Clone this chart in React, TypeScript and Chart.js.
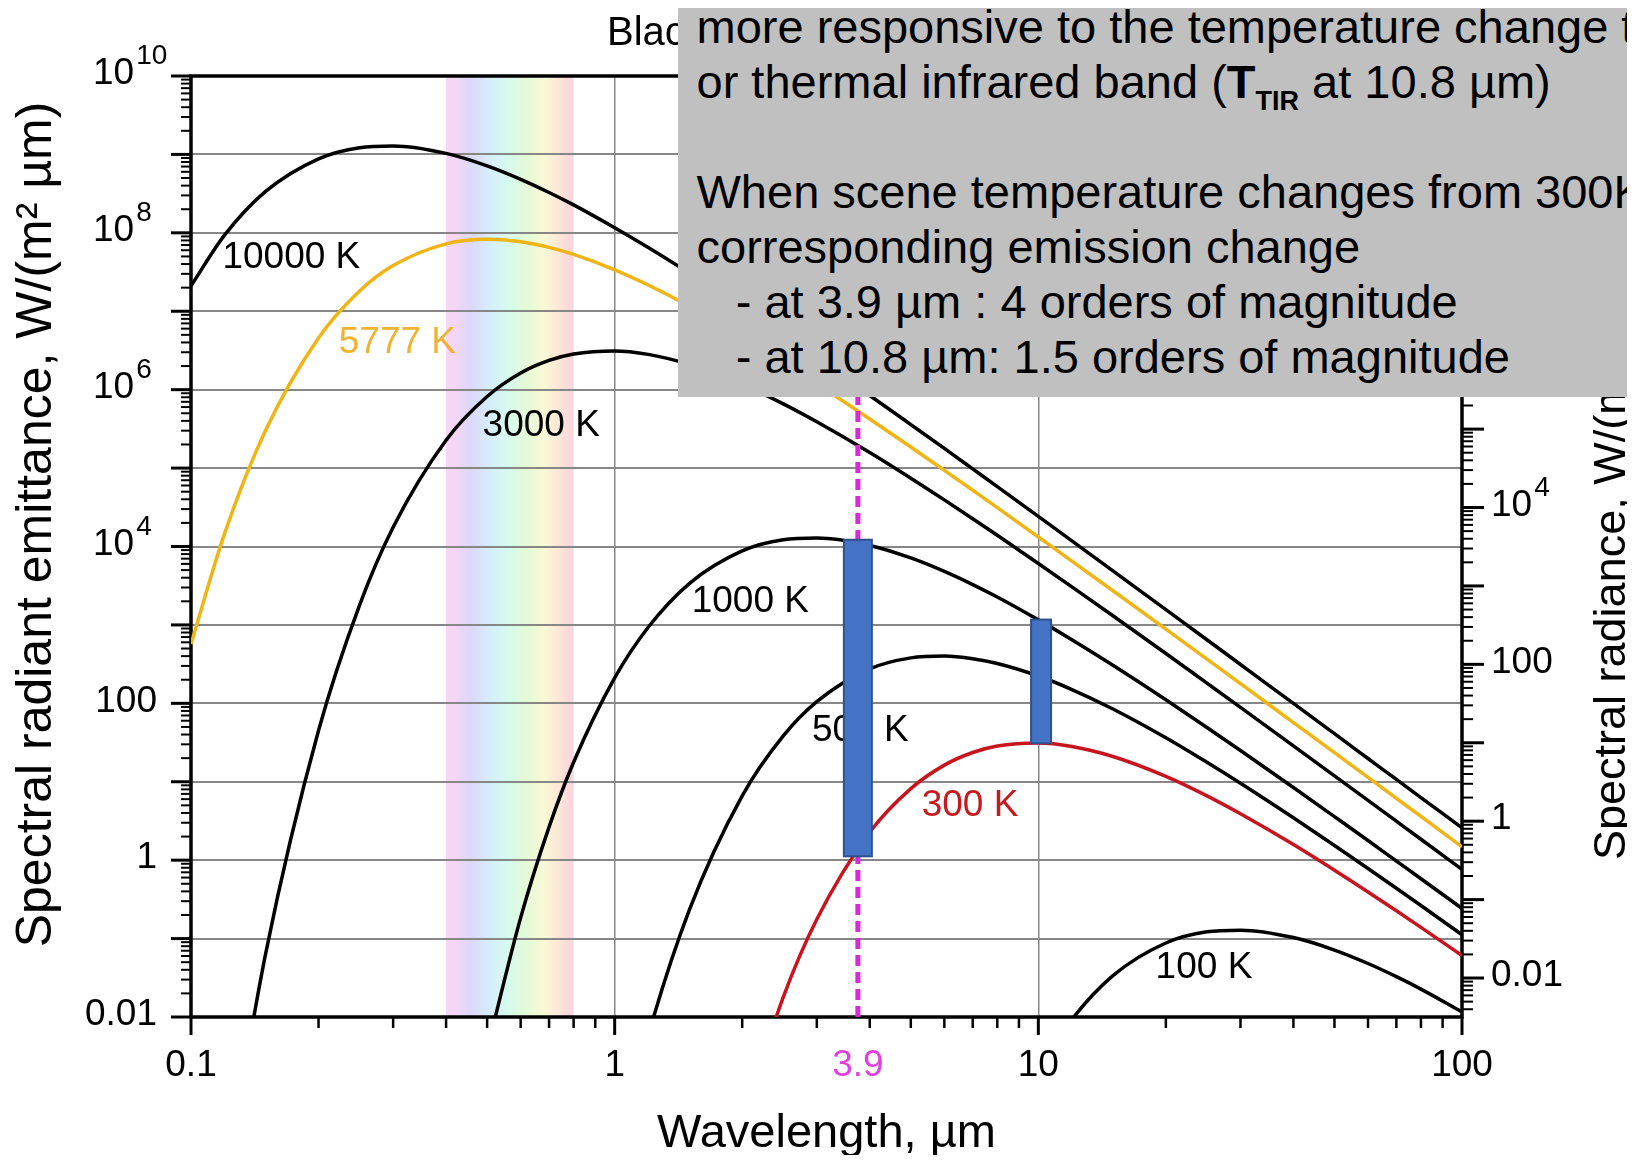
import React, { useEffect, useRef } from 'react';
import { Chart, registerables } from 'chart.js';

Chart.register(...registerables);

// ---------------- data ----------------
const wavelengths = [0.1, 0.12, 0.15, 0.2, 0.25, 0.3, 0.4, 0.5, 0.6, 0.7, 0.8, 1, 1.2, 1.5, 2, 2.5, 3, 4, 5, 6, 7, 8, 10, 12, 15, 20, 25, 30, 40, 50, 60, 70, 80, 100];

const emit10000K = [2.11e7, 9.33e7, 3.37e8, 8.79e8, 1.22e9, 1.28e9, 1.03e9, 7.14e8, 4.81e8, 3.27e8, 2.27e8, 1.16e8, 6.49e7, 3.06e7, 1.11e7, 4.92e6, 2.5e6, 8.44e5, 3.59e5, 1.78e5, 9.76e4, 5.8e4, 2.42e4, 1.18e4, 4.9e3, 1.57e3, 647, 313, 99.8, 41.0, 19.8, 10.7, 6.29, 2.58];
const emit5777K = [571, 1.46e4, 3.03e5, 4.57e6, 1.81e7, 3.82e7, 7.24e7, 8.28e7, 7.7e7, 6.53e7, 5.31e7, 3.38e7, 2.16e7, 1.16e7, 4.73e6, 2.24e6, 1.19e6, 4.23e5, 1.86e5, 9.35e4, 5.21e4, 3.13e4, 1.32e4, 6.52e3, 2.73e3, 882, 366, 178, 56.9, 23.5, 11.4, 6.15, 3.61, 1.48];
const emit3000K = [null, 6.6e-5, 0.064, 45, 1.79e3, 1.76e4, 2.27e5, 8.18e5, 1.63e6, 2.36e6, 2.85e6, 3.12e6, 2.82e6, 2.1e6, 1.17e6, 6.6e5, 3.9e5, 1.58e5, 7.44e4, 3.93e4, 2.26e4, 1.39e4, 6.08e3, 3.06e3, 1.31e3, 432, 181, 88.8, 28.7, 11.9, 5.78, 3.14, 1.85, 0.762];
const emit1000K = [null, null, null, null, null, null, null, 0.0038, 0.185, 2.64, 17.7, 211, 933, 3.37e3, 8.79e3, 1.22e4, 1.28e4, 1.03e4, 7.14e3, 4.81e3, 3.27e3, 2.27e3, 1.16e3, 649, 306, 111, 49.2, 25, 8.44, 3.59, 1.78, 0.976, 0.58, 0.242];
const emit500K = [null, null, null, null, null, null, null, null, null, null, null, 1.2e-4, 0.0058, 0.23, 6.6, 38.4, 105, 275, 380, 401, 371, 322, 223, 150, 84.8, 36.4, 17.7, 9.57, 3.47, 1.54, 0.782, 0.438, 0.264, 0.112];
const emit300K = [null, null, null, null, null, null, null, null, null, null, null, null, null, null, 4.5e-4, 0.0179, 0.176, 2.27, 8.18, 16.3, 23.6, 28.5, 31.2, 28.2, 21.0, 11.7, 6.6, 3.9, 1.58, 0.744, 0.393, 0.226, 0.139, 0.0608];
const emit100K = [null, null, null, null, null, null, null, null, null, null, null, null, null, null, null, null, null, null, null, null, null, null, 0.0021, 0.0093, 0.0337, 0.0879, 0.122, 0.128, 0.103, 0.0714, 0.0481, 0.0327, 0.0227, 0.0116];

const curveNames = ['10000 K', '5777 K', '3000 K', '1000 K', '500 K', '300 K', '100 K'];
const curveSeries = [emit10000K, emit5777K, emit3000K, emit1000K, emit500K, emit300K, emit100K];

// curve label anchor points (wavelength, emittance)
const curveLabelX = [0.1725, 0.307, 0.671, 2.09, 3.8, 6.9, 24.6];
const curveLabelY = [4.8e7, 4.0e6, 3.5e5, 2.0e3, 45, 5.0, 0.042];

// axes
const xDecades = [0.1, 1, 10, 100];
const xTickLabels = ['0.1', '1', '10', '100'];
const yDecades = [0.01, 0.1, 1, 10, 100, 1e3, 1e4, 1e5, 1e6, 1e7, 1e8, 1e9, 1e10];
const yTickValues = [0.01, 1, 100, 1e4, 1e6, 1e8, 1e10];
const yTickLabels = ['0.01', '1', '100', '10^4', '10^6', '10^8', '10^10'];
const y2Decades = [0.01, 0.1, 1, 10, 100, 1e3, 1e4, 1e5, 1e6, 1e7, 1e8, 1e9];
const y2TickValues = [0.01, 1, 100, 1e4, 1e6, 1e8];
const y2TickLabels = ['0.01', '1', '100', '10^4', '10^6', '10^8'];

// visible band (µm)
const visibleBand = [0.4, 0.8];

// marker line and change bars
const markerWavelength = 3.75;
const markerLabel = '3.9';
const barCenters = [3.75, 10.15];
const barLows = [1.12, 31];
const barHighs = [12200, 1170];

// ---------------- styles ----------------
const FONT = "'Liberation Sans', Arial, Helvetica, sans-serif";
const curveColors = ['#000000', '#f0b414', '#000000', '#000000', '#000000', '#c8141e', '#000000'];
const labelColors = ['#000000', '#f0b232', '#000000', '#000000', '#000000', '#c81a1e', '#000000'];
const GRID = '#878787';
const TICK_PX = 37;
const EXP_PX = 28;
const LABEL_PX = 37;
const bandStops = [0, 0.06, 0.19, 0.33, 0.48, 0.63, 0.77, 0.88, 0.96, 1];
const bandColors = ['#f6d6f6', '#f6d6f6', '#dcd8f8', '#d6ecfc', '#d6faee', '#e4fad6', '#faf8d6', '#fce8d8', '#fcd8dc', '#fcd8dc'];
const barWidthsPx = [28, 20];
const CANVAS_W = 1627;
const CANVAS_H = 1155;

function minorValues(min: number, max: number): number[] {
  const out: number[] = [];
  const e0 = Math.floor(Math.log10(min));
  const e1 = Math.ceil(Math.log10(max));
  for (let e = e0; e <= e1; e++) {
    for (let m = 2; m <= 9; m++) {
      const v = m * Math.pow(10, e);
      if (v > min * 1.0001 && v < max * 0.9999) out.push(v);
    }
  }
  return out;
}

function drawTickLabel(ctx: CanvasRenderingContext2D, text: string, x: number, y: number, align: CanvasTextAlign, color = '#000') {
  ctx.fillStyle = color;
  ctx.textBaseline = 'middle';
  if (text.includes('^')) {
    const [base, exp] = text.split('^');
    ctx.font = `${TICK_PX}px ${FONT}`;
    const bw = ctx.measureText(base).width;
    ctx.font = `${EXP_PX}px ${FONT}`;
    const ew = ctx.measureText(exp).width;
    const gap = 2;
    let left = x;
    if (align === 'right') left = x - bw - ew - gap;
    else if (align === 'center') left = x - (bw + ew + gap) / 2;
    ctx.textAlign = 'left';
    ctx.font = `${TICK_PX}px ${FONT}`;
    ctx.fillText(base, left, y);
    ctx.font = `${EXP_PX}px ${FONT}`;
    ctx.fillText(exp, left + bw + gap, y - 17.5);
  } else {
    ctx.textAlign = align;
    ctx.font = `${TICK_PX}px ${FONT}`;
    ctx.fillText(text, x, y);
  }
}

const decorPlugin = {
  id: 'decor',
  beforeDraw(chart: any) {
    const { ctx, chartArea: ca, scales } = chart;
    const xs = scales.x;
    const x0 = xs.getPixelForValue(visibleBand[0]);
    const x1 = xs.getPixelForValue(visibleBand[1]);
    const g = ctx.createLinearGradient(x0, 0, x1, 0);
    bandStops.forEach((s, i) => g.addColorStop(s, bandColors[i]));
    ctx.save();
    ctx.fillStyle = g;
    ctx.fillRect(x0, ca.top, x1 - x0, ca.bottom - ca.top);
    ctx.restore();
  },
  beforeDatasetsDraw(chart: any) {
    const { ctx, chartArea: ca, scales } = chart;
    const xs = scales.x, ys = scales.y, y2 = scales.y2;
    ctx.save();
    ctx.strokeStyle = '#000';
    ctx.lineCap = 'butt';
    const tick = (x1: number, y1: number, x2: number, y2p: number, w: number) => {
      ctx.lineWidth = w;
      ctx.beginPath();
      ctx.moveTo(x1, y1);
      ctx.lineTo(x2, y2p);
      ctx.stroke();
    };
    // left axis ticks
    yDecades.forEach((v) => { const p = ys.getPixelForValue(v); tick(ca.left - 20, p, ca.left, p, 3); });
    minorValues(ys.min, ys.max).forEach((v) => { const p = ys.getPixelForValue(v); tick(ca.left - 10, p, ca.left, p, 2); });
    // right axis ticks
    y2Decades.forEach((v) => { const p = y2.getPixelForValue(v); tick(ca.right, p, ca.right + 22, p, 3); });
    minorValues(y2.min, y2.max).forEach((v) => { const p = y2.getPixelForValue(v); tick(ca.right, p, ca.right + 11, p, 2); });
    // bottom axis ticks
    xDecades.forEach((v) => { const p = xs.getPixelForValue(v); tick(p, ca.bottom, p, ca.bottom + 18, 3); });
    minorValues(xs.min, xs.max).forEach((v) => { const p = xs.getPixelForValue(v); tick(p, ca.bottom, p, ca.bottom + 11, 2.5); });
    // frame
    ctx.lineWidth = 3.5;
    ctx.strokeRect(ca.left, ca.top, ca.right - ca.left, ca.bottom - ca.top);
    ctx.restore();
  },
  afterDatasetsDraw(chart: any) {
    const { ctx, chartArea: ca, scales } = chart;
    const xs = scales.x, ys = scales.y;
    ctx.save();
    // curve labels
    ctx.font = `${LABEL_PX}px ${FONT}`;
    ctx.textAlign = 'center';
    ctx.textBaseline = 'middle';
    curveNames.forEach((name, i) => {
      ctx.fillStyle = labelColors[i];
      ctx.fillText(name, xs.getPixelForValue(curveLabelX[i]), ys.getPixelForValue(curveLabelY[i]));
    });
    // magenta dashed marker
    const mx = xs.getPixelForValue(markerWavelength);
    ctx.strokeStyle = '#dc28dc';
    ctx.lineWidth = 5;
    ctx.setLineDash([11, 6]);
    ctx.beginPath();
    ctx.moveTo(mx, ca.bottom);
    ctx.lineTo(mx, ca.top);
    ctx.stroke();
    ctx.setLineDash([]);
    // change bars
    barCenters.forEach((c, i) => {
      const cx = xs.getPixelForValue(c);
      const top = ys.getPixelForValue(barHighs[i]);
      const bot = ys.getPixelForValue(barLows[i]);
      const w = barWidthsPx[i];
      ctx.fillStyle = '#4472c4';
      ctx.fillRect(cx - w / 2, top, w, bot - top);
      ctx.strokeStyle = '#2f528f';
      ctx.lineWidth = 2;
      ctx.strokeRect(cx - w / 2, top, w, bot - top);
    });
    // tick labels
    yTickValues.forEach((v, i) => {
      const p = ys.getPixelForValue(v) - 2;
      const lab = yTickLabels[i];
      if (lab.includes('^')) drawTickLabel(ctx, lab, ca.left - 98, p, 'left');
      else drawTickLabel(ctx, lab, ca.left - 34, p, 'right');
    });
    y2TickValues.forEach((v, i) => {
      const p = scales.y2.getPixelForValue(v) - 2;
      drawTickLabel(ctx, y2TickLabels[i], ca.right + 29, p, 'left');
    });
    xDecades.forEach((v, i) => {
      drawTickLabel(ctx, xTickLabels[i], xs.getPixelForValue(v), ca.bottom + 49, 'center');
    });
    drawTickLabel(ctx, markerLabel, mx, ca.bottom + 49, 'center', '#e040e0');
    // y axis titles
    ctx.fillStyle = '#000';
    ctx.textBaseline = 'middle';
    ctx.font = `50px ${FONT}`;
    ctx.save();
    ctx.translate(29, 516.5);
    ctx.rotate(-Math.PI / 2);
    ctx.textAlign = 'center';
    ctx.fillText('Spectral radiant emittance, W/(m² µm)', 0, 0);
    ctx.restore();
    ctx.font = `45px ${FONT}`;
    ctx.save();
    ctx.translate(1605, 852);
    ctx.rotate(-Math.PI / 2);
    ctx.textAlign = 'left';
    ctx.fillText('Spectral radiance, W/(m² sr µm)', 0, 0);
    ctx.restore();
    // chart title (mostly hidden by the note box)
    ctx.font = `40px ${FONT}`;
    ctx.textAlign = 'left';
    ctx.textBaseline = 'alphabetic';
    ctx.fillText('Blackbody radiation curves', 599, 37);
    ctx.restore();
  },
};

export default function App() {
  const ref = useRef<HTMLCanvasElement>(null);

  useEffect(() => {
    if (!ref.current) return;
    const chart = new Chart(ref.current, {
      type: 'line',
      data: {
        datasets: curveSeries.map((vals, i) => ({
          label: curveNames[i],
          data: wavelengths.map((w, j) => ({ x: w, y: vals[j] })),
          borderColor: curveColors[i],
          borderWidth: 3.5,
          pointRadius: 0,
          fill: false,
          cubicInterpolationMode: 'monotone' as const,
          spanGaps: false,
        })),
      },
      options: {
        animation: false,
        responsive: false,
        events: [],
        layout: { padding: { top: 68, left: 0, right: 0, bottom: 0 } },
        elements: { line: { capBezierPoints: false } },
        plugins: { legend: { display: false }, tooltip: { enabled: false }, title: { display: false } },
        scales: {
          x: {
            type: 'logarithmic',
            position: 'bottom',
            min: 0.1,
            max: 100,
            afterBuildTicks: (s: any) => { s.ticks = xDecades.map((v) => ({ value: v })); },
            afterFit: (s: any) => { s.height = 146; },
            ticks: { display: false },
            grid: { color: GRID, lineWidth: 1.5, drawTicks: false },
            border: { display: false },
            title: {
              display: true,
              text: 'Wavelength, µm',
              color: '#000',
              font: { family: FONT, size: 47, lineHeight: 1 },
              padding: { top: 0, bottom: 5.5 },
            },
          },
          y: {
            type: 'logarithmic',
            position: 'left',
            min: 0.01,
            max: 1e10,
            afterBuildTicks: (s: any) => { s.ticks = yDecades.map((v) => ({ value: v })); },
            afterFit: (s: any) => { s.width = 183; },
            ticks: { display: false },
            grid: { color: GRID, lineWidth: 2, drawTicks: false },
            border: { display: false },
          },
          y2: {
            type: 'logarithmic',
            position: 'right',
            min: 0.01 / Math.PI,
            max: 1e10 / Math.PI,
            afterBuildTicks: (s: any) => { s.ticks = y2Decades.map((v) => ({ value: v })); },
            afterFit: (s: any) => { s.width = 173; },
            ticks: { display: false },
            grid: { drawOnChartArea: false, drawTicks: false },
            border: { display: false },
          },
        },
      } as any,
      plugins: [decorPlugin],
    });
    return () => chart.destroy();
  }, []);

  const textLine: React.CSSProperties = { height: 55, whiteSpace: 'pre' };

  return (
    <div style={{ position: 'relative', width: CANVAS_W, height: CANVAS_H, marginBottom: -8 }}>
      <canvas ref={ref} width={CANVAS_W} height={CANVAS_H} style={{ display: 'block', width: CANVAS_W, height: CANVAS_H }} />
      <div
        style={{
          position: 'absolute',
          left: 670,
          top: -8,
          width: 957,
          height: 397,
          background: '#c0c0c0',
          overflow: 'hidden',
        }}
      >
        <div
          style={{
            position: 'absolute',
            left: 18.5,
            top: -0.8,
            fontFamily: FONT,
            fontSize: 47,
            lineHeight: '55px',
            color: '#000',
          }}
        >
          <div style={textLine}>more responsive to the temperature change than the</div>
          <div style={textLine}>
            or thermal infrared band (
            <span style={{ fontWeight: 'bold' }}>
              T<span style={{ fontSize: 27, position: 'relative', top: 12 }}>TIR</span>
            </span>{' '}
            at 10.8 µm)
          </div>
          <div style={textLine}>{'\u00a0'}</div>
          <div style={textLine}>When scene temperature changes from 300K to 1000K, the</div>
          <div style={textLine}>corresponding emission change</div>
          <div style={textLine}>{'   - at 3.9 µm : 4 orders of magnitude'}</div>
          <div style={textLine}>{'   - at 10.8 µm: 1.5 orders of magnitude'}</div>
        </div>
      </div>
    </div>
  );
}
